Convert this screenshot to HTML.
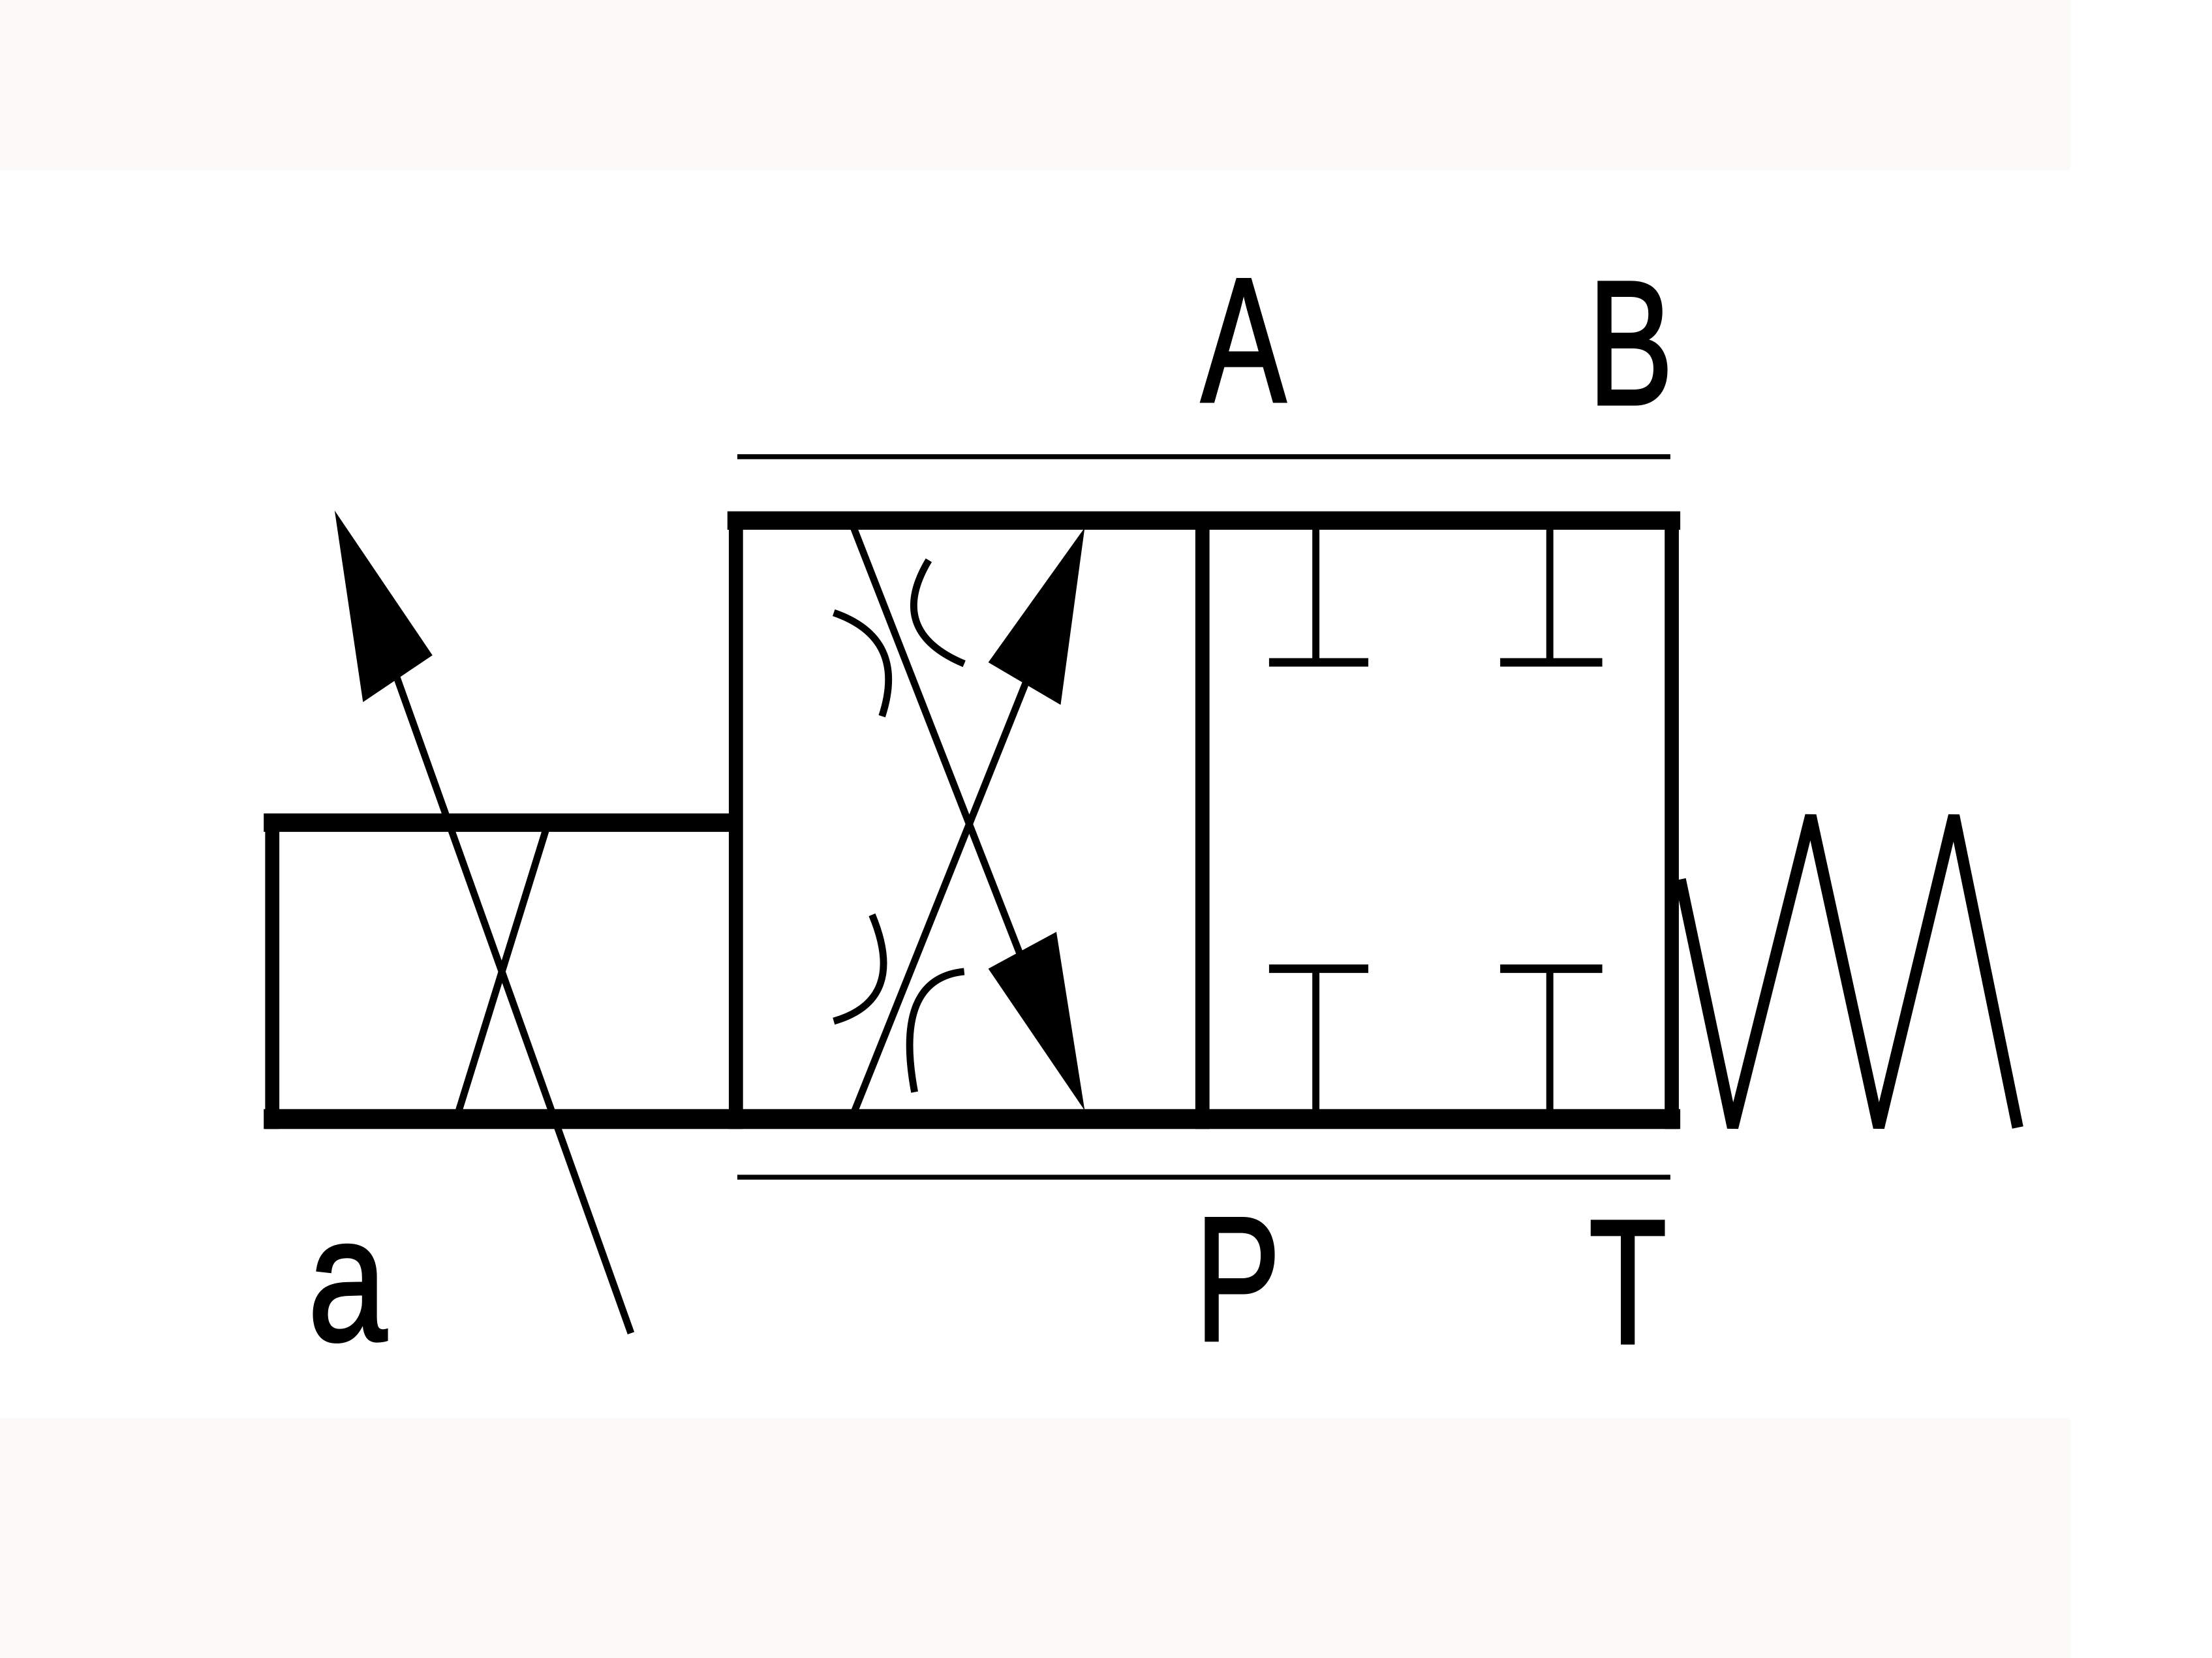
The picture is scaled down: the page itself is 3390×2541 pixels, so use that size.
<!DOCTYPE html>
<html><head><meta charset="utf-8"><style>
html,body{margin:0;padding:0;background:#fff;}
svg{display:block;}
text{font-family:"Liberation Sans",sans-serif;fill:#000;stroke:#000;stroke-width:2;}
</style></head><body>
<svg width="3390" height="2541" viewBox="0 0 1560 1169" preserveAspectRatio="none" xmlns="http://www.w3.org/2000/svg">
<rect x="0" y="0" width="1560" height="1169" fill="#fff"/>
<rect x="0" y="0" width="1460" height="120" fill="#fbfaf6"/>
<rect x="0" y="1000" width="1460" height="169" fill="#fbfaf6"/>
<g stroke="#000" fill="none" stroke-linecap="butt">
<line x1="520" y1="322" x2="1178" y2="322" stroke-width="3.5"/>
<line x1="520" y1="830" x2="1178" y2="830" stroke-width="3.5"/>
<line x1="513" y1="367" x2="1185" y2="367" stroke-width="13"/>
<line x1="186" y1="789" x2="1185" y2="789" stroke-width="14"/>
<line x1="186" y1="580" x2="515" y2="580" stroke-width="13"/>
<line x1="519" y1="362" x2="519" y2="796" stroke-width="10"/>
<line x1="848" y1="362" x2="848" y2="796" stroke-width="10"/>
<line x1="1179" y1="362" x2="1179" y2="796" stroke-width="10"/>
<line x1="192" y1="574" x2="192" y2="796" stroke-width="10"/>
<line x1="323" y1="785" x2="385" y2="585" stroke-width="5"/>
<line x1="445" y1="940" x2="270" y2="450" stroke-width="5"/>
<line x1="602" y1="372" x2="730" y2="700" stroke-width="5"/>
<line x1="602" y1="785" x2="728" y2="470" stroke-width="5"/>
<line x1="928" y1="372" x2="928" y2="467" stroke-width="5"/>
<line x1="895" y1="467" x2="965" y2="467" stroke-width="6"/>
<line x1="1093" y1="372" x2="1093" y2="467" stroke-width="5"/>
<line x1="1058" y1="467" x2="1130" y2="467" stroke-width="6"/>
<line x1="928" y1="683" x2="928" y2="785" stroke-width="5"/>
<line x1="895" y1="683" x2="965" y2="683" stroke-width="6"/>
<line x1="1093" y1="683" x2="1093" y2="785" stroke-width="5"/>
<line x1="1058" y1="683" x2="1130" y2="683" stroke-width="6"/>
<path d="M588 432 Q640 450 622 505" stroke-width="5"/>
<path d="M655 395 Q625 445 680 468" stroke-width="5"/>
<path d="M615 645 Q640 705 588 720" stroke-width="5"/>
<path d="M680 685 Q630 690 645 770" stroke-width="5"/>
<polyline points="1185,620 1222,795 1277,575 1325,795 1378,575 1423,795" stroke-width="8" stroke-linejoin="miter"/>
</g>
<g fill="#000">
<polygon points="236,360 305,462 256,495"/>
<polygon points="765,372 748,497 697,467"/>
<polygon points="765,783 697,683 745,657"/>
</g>
<g transform="translate(877 283) scale(0.72 1)"><text x="0" y="0" font-size="125" text-anchor="middle">A</text></g>
<g transform="translate(1150 285) scale(0.72 1)"><text x="0" y="0" font-size="125" text-anchor="middle">B</text></g>
<g transform="translate(873 945) scale(0.72 1)"><text x="0" y="0" font-size="125" text-anchor="middle">P</text></g>
<g transform="translate(1148 947) scale(0.72 1)"><text x="0" y="0" font-size="125" text-anchor="middle">T</text></g>
<g transform="translate(245 945) scale(0.8 1)"><text x="0" y="0" font-size="125" text-anchor="middle">a</text></g>
</svg>
</body></html>
